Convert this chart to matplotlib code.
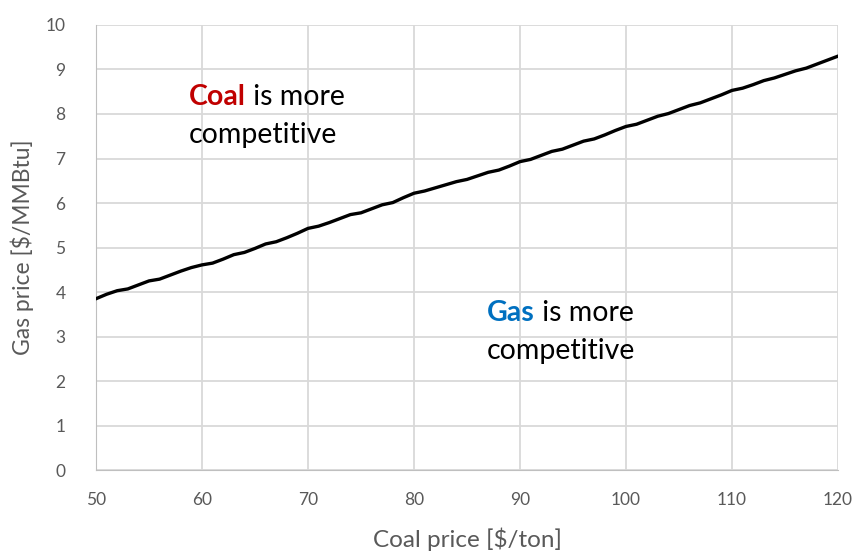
import matplotlib.pyplot as plt

# breakeven gas price for each coal price
coal_price = list(range(50, 121))
gas_price = [
    3.85, 3.95, 4.03, 4.07, 4.16, 4.25, 4.29, 4.38, 4.47, 4.55,
    4.61, 4.65, 4.74, 4.84, 4.89, 4.98, 5.08, 5.13, 5.22, 5.32,
    5.43, 5.48, 5.56, 5.65, 5.74, 5.78, 5.87, 5.96, 6.01, 6.12,
    6.22, 6.27, 6.34, 6.41, 6.48, 6.53, 6.61, 6.69, 6.74, 6.83,
    6.93, 6.98, 7.07, 7.16, 7.21, 7.30, 7.39, 7.44, 7.53, 7.63,
    7.72, 7.77, 7.86, 7.95, 8.01, 8.10, 8.19, 8.25, 8.34, 8.43,
    8.53, 8.58, 8.66, 8.75, 8.81, 8.89, 8.97, 9.03, 9.12, 9.21,
    9.30,
]
x_ticks = list(range(50, 121, 10))
y_ticks = list(range(0, 11))

plt.rcParams["font.family"] = ["Lato", "DejaVu Sans"]

fig = plt.figure(figsize=(8.61, 5.55), dpi=100)
ax = fig.add_axes([0.1115, 0.153, 0.8618, 0.802])

ax.plot(coal_price, gas_price, color="black", linewidth=2.4, zorder=3)

ax.set_xlim(50, 120)
ax.set_ylim(0, 10)
ax.set_xticks(x_ticks)
ax.set_yticks(y_ticks)
ax.grid(True, color="#d9d9d9", linewidth=1.3)
ax.tick_params(length=0, colors="#595959", labelsize=12.5)
ax.tick_params(axis="x", pad=16)
ax.tick_params(axis="y", pad=22)
for s in ax.spines.values():
    s.set_visible(False)
ax.spines["left"].set_visible(True)
ax.spines["bottom"].set_visible(True)
ax.spines["left"].set_color("#bfbfbf")
ax.spines["bottom"].set_color("#bfbfbf")

ax.set_xlabel("Coal price [$/ton]", color="#595959", fontsize=17.5, labelpad=14)
ax.set_ylabel("Gas price [$/MMBtu]", color="#595959", fontsize=16.5, labelpad=8)


def region_label(x, y, word, color):
    # bold fuel name, then the rest of the line, then a second line
    t = ax.text(x, y, word, color=color, fontweight="bold", fontsize=20.5, va="baseline")
    ax.annotate(" is more", xy=(1, 0), xycoords=t, color="black", fontsize=20.5,
                va="bottom")
    ax.text(x, y - 0.86, "competitive", color="black", fontsize=20.5, va="baseline")


region_label(58.75, 8.2, "Coal", "#c00000")
region_label(86.9, 3.35, "Gas", "#0070c0")

plt.savefig("out.png", dpi=100)
